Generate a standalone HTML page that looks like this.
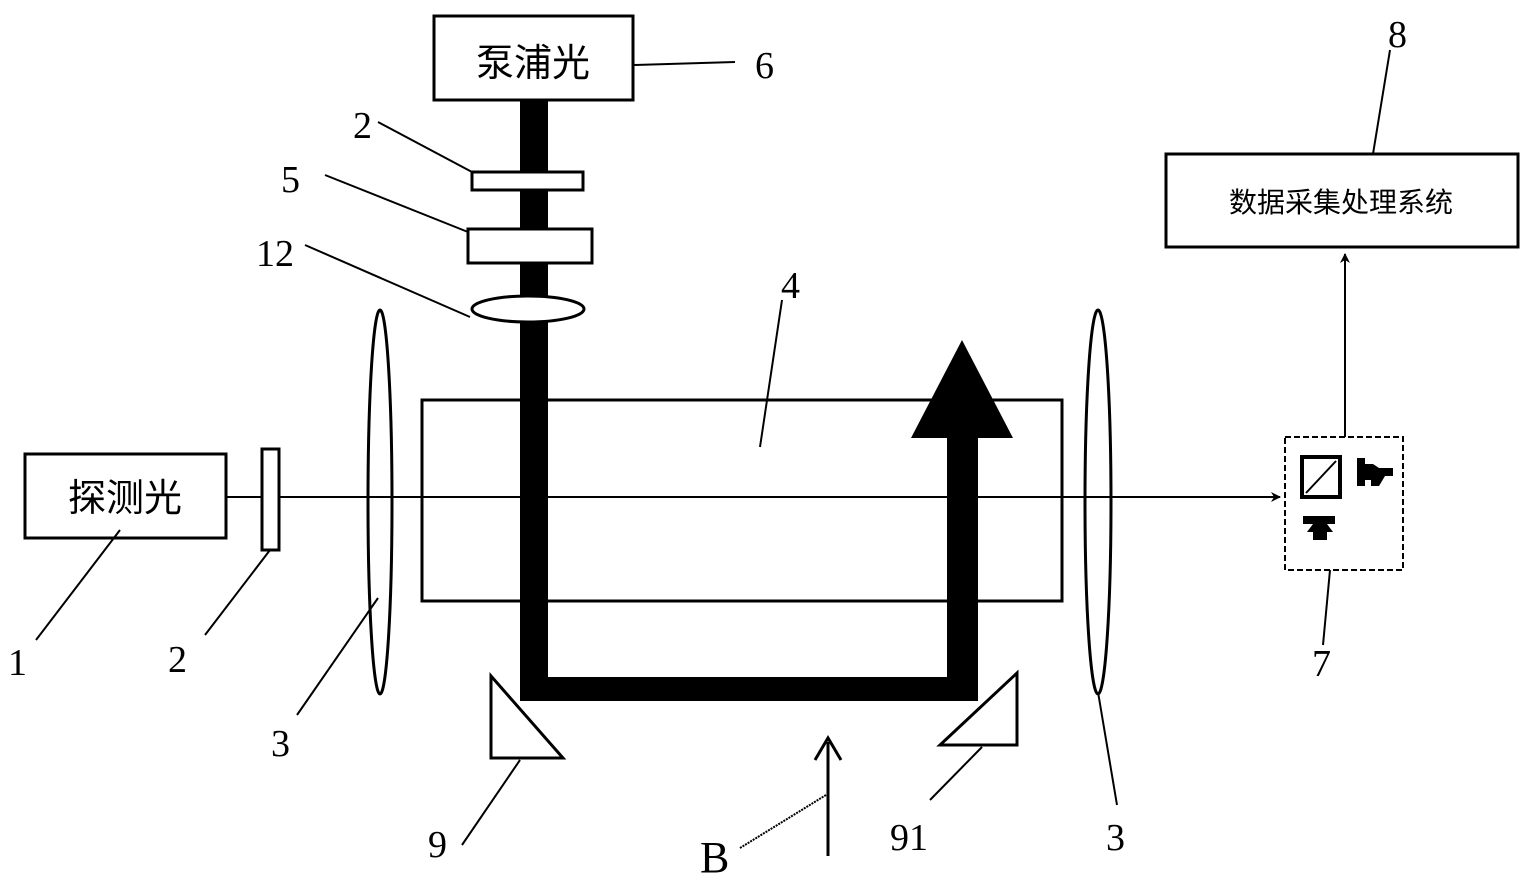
<!DOCTYPE html>
<html><head><meta charset="utf-8"><style>
html,body{margin:0;padding:0;background:#fff;}
svg{display:block;}
.n{font-family:"Liberation Serif",serif;font-size:38px;fill:#000;}
.c{font-family:"Liberation Sans","Noto Sans CJK SC",sans-serif;fill:#000;}
</style></head><body>
<svg width="1535" height="888" viewBox="0 0 1535 888" xmlns="http://www.w3.org/2000/svg">
<defs><marker id="a" markerWidth="10" markerHeight="10" refX="9" refY="5" orient="auto" markerUnits="userSpaceOnUse"><path d="M0,0 L10,5 L0,10 L3,5z" fill="#000"/></marker></defs>
<g stroke="#000" fill="none">
<!-- pump box -->
<rect x="434" y="16" width="199" height="84" stroke-width="3" fill="#fff"/>
<line x1="633" y1="65" x2="735" y2="62" stroke-width="2"/>
<!-- probe line -->
<line x1="226" y1="497" x2="1280" y2="497" stroke-width="2" marker-end="url(#a)"/>
<!-- cell -->
<rect x="422" y="400" width="640" height="201" stroke-width="3"/>
<!-- pump beam -->
<rect x="520" y="100" width="28" height="600" fill="#000" stroke="none"/>
<rect x="520" y="677" width="458" height="24" fill="#000" stroke="none"/>
<rect x="947" y="430" width="31" height="271" fill="#000" stroke="none"/>
<polygon points="911,438 1013,438 962,340" fill="#000" stroke="none"/>
<!-- optics on pump -->
<rect x="472" y="172" width="111" height="18" stroke-width="3" fill="#fff"/>
<rect x="468" y="229" width="124" height="34" stroke-width="3" fill="#fff"/>
<ellipse cx="528" cy="309" rx="56" ry="13" stroke-width="3" fill="#fff"/>
<line x1="378" y1="122" x2="472" y2="172" stroke-width="2"/>
<line x1="325" y1="175" x2="468" y2="232" stroke-width="2"/>
<line x1="305" y1="245" x2="470" y2="317" stroke-width="2"/>
<line x1="782" y1="300" x2="760" y2="447" stroke-width="2"/>
<!-- probe box -->
<rect x="25" y="454" width="201" height="84" stroke-width="3" fill="#fff"/>
<rect x="262" y="449" width="17" height="101" stroke-width="3" fill="#fff"/>
<ellipse cx="380" cy="502" rx="12" ry="192" stroke-width="3" fill="none"/>
<ellipse cx="1098" cy="502" rx="13" ry="192" stroke-width="3" fill="none"/>
<!-- leader lines -->
<line x1="36" y1="640" x2="120" y2="530" stroke-width="2"/>
<line x1="205" y1="635" x2="270" y2="550" stroke-width="2"/>
<line x1="297" y1="715" x2="378" y2="598" stroke-width="2"/>
<line x1="1117" y1="805" x2="1098" y2="692" stroke-width="2"/>
<line x1="1330" y1="570" x2="1323" y2="645" stroke-width="2"/>
<line x1="462" y1="845" x2="520" y2="760" stroke-width="2"/>
<line x1="930" y1="800" x2="982" y2="747" stroke-width="2"/>
<line x1="740" y1="848" x2="826" y2="795" stroke-width="2" stroke-dasharray="2,1"/>
<!-- prisms -->
<polygon points="491,676 491,758 563,758" stroke-width="3" fill="#fff"/>
<polygon points="1017,673 1017,745 940,745" stroke-width="3" fill="#fff"/>
<!-- B arrow -->
<line x1="828" y1="856" x2="828" y2="742" stroke-width="3"/>
<polyline points="815,760 828,738 841,760" stroke-width="3"/>
<!-- detector 7 -->
<rect x="1285" y="437" width="118" height="133" stroke-width="2" stroke-dasharray="6,3"/>
<rect x="1302" y="457" width="38" height="40" stroke-width="4"/>
<line x1="1306" y1="493" x2="1336" y2="461" stroke-width="2"/>
<line x1="1345" y1="437" x2="1345" y2="254" stroke-width="2" marker-end="url(#a)"/>
<!-- box 8 -->
<rect x="1166" y="154" width="352" height="93" stroke-width="3"/>
<line x1="1390" y1="50" x2="1373" y2="154" stroke-width="2"/>
</g>
<!-- detector icons -->
<path d="M1357,458 h8 v6 h8 l6,4 h14 v8 h-8 l-6,10 h-8 v-6 h-6 v6 h-8z" fill="#000"/>
<path d="M1303,516 h32 v8 h-8 l6,8 h-6 v8 h-14 v-8 h-6 l6,-8 h-10z" fill="#000"/>
<text class="c" x="533" y="76" font-size="38" text-anchor="middle">泵浦光</text>
<text class="c" x="125" y="511" font-size="38" text-anchor="middle">探测光</text>
<text class="c" x="1341" y="212" font-size="28" text-anchor="middle">数据采集处理系统</text>
<g class="n">
<text x="755" y="78">6</text>
<text x="353" y="138">2</text>
<text x="281" y="192">5</text>
<text x="256" y="266">12</text>
<text x="781" y="298">4</text>
<text x="1388" y="47">8</text>
<text x="8" y="675">1</text>
<text x="168" y="672">2</text>
<text x="271" y="756">3</text>
<text x="1106" y="850">3</text>
<text x="1312" y="676">7</text>
<text x="428" y="857">9</text>
<text x="890" y="850">91</text>
<text x="700" y="872" font-size="44">B</text>
</g>
</svg>
</body></html>
